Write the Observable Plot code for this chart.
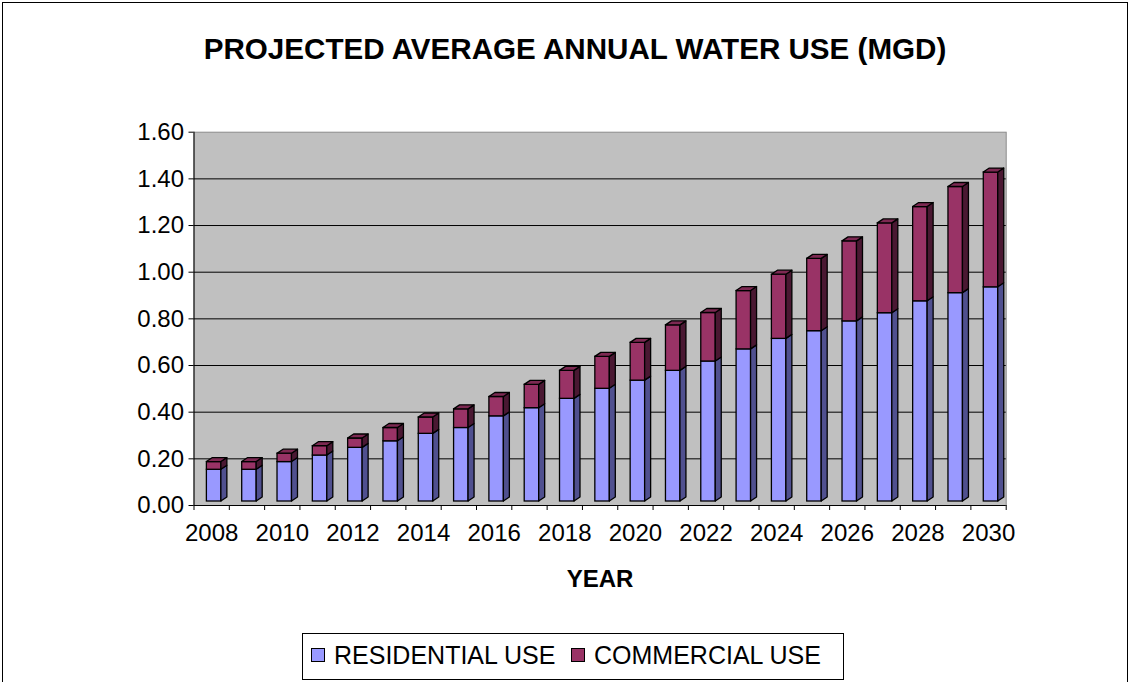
<!DOCTYPE html>
<html>
<head>
<meta charset="utf-8">
<script src="https://cdn.jsdelivr.net/npm/d3@7"></script>
<script src="https://cdn.jsdelivr.net/npm/@observablehq/plot@0.6"></script>
<style>
  body { margin: 0; background: #fff; font-family: "Liberation Sans", Arial, sans-serif; color: #000; }
  #wrap { position: relative; width: 1130px; height: 682px; overflow: hidden; background: #fff; }
  #frame { position: absolute; left: 2px; top: 2px; width: 1126px; height: 800px; border: 1px solid #000; box-sizing: border-box; }
  #title { position: absolute; left: 0; top: 34px; width: 1150px; text-align: center; font-weight: bold; font-size: 29.6px; line-height: 29.6px; white-space: nowrap; }
  #chart { position: absolute; left: 0; top: 100px; }
  #xlabel { position: absolute; left: 500px; width: 200px; top: 566.7px; text-align: center; font-weight: bold; font-size: 24px; line-height: 24px; }
  #legend { position: absolute; left: 302px; top: 633px; width: 542px; height: 47px; border: 1px solid #000; box-sizing: border-box; }
  .sw { position: absolute; width: 14px; height: 14px; border: 1px solid #000; box-sizing: border-box; top: 648px; }
  .lt { position: absolute; top: 642.7px; font-size: 25px; line-height: 24px; white-space: nowrap; }
</style>
</head>
<body>
<div id="wrap">
  <div id="frame"></div>
  <div id="title">PROJECTED AVERAGE ANNUAL WATER USE (MGD)</div>
  <div id="chart"></div>
  <div id="xlabel">YEAR</div>
  <div id="legend"></div>
  <div class="sw" id="sw1" style="left:311px;"></div>
  <div class="lt" id="lt1" style="left:334px;"></div>
  <div class="sw" id="sw2" style="left:571px;"></div>
  <div class="lt" id="lt2" style="left:594px;"></div>
</div>
<script>
// ---- data ----
const years = [2008, 2009, 2010, 2011, 2012, 2013, 2014, 2015, 2016, 2017, 2018, 2019,
               2020, 2021, 2022, 2023, 2024, 2025, 2026, 2027, 2028, 2029, 2030];
const residential = [0.136, 0.136, 0.169, 0.197, 0.230, 0.258, 0.290, 0.315, 0.365, 0.400, 0.440, 0.483,
                     0.518, 0.560, 0.600, 0.652, 0.697, 0.730, 0.772, 0.807, 0.858, 0.893, 0.918];
const commercial = [0.033, 0.033, 0.036, 0.040, 0.040, 0.057, 0.070, 0.080, 0.083, 0.100, 0.120, 0.137,
                    0.162, 0.195, 0.208, 0.250, 0.275, 0.310, 0.343, 0.385, 0.404, 0.455, 0.492];
const seriesNames = ["RESIDENTIAL USE", "COMMERCIAL USE"];
const yTicks = [0, 0.2, 0.4, 0.6, 0.8, 1.0, 1.2, 1.4, 1.6];
const xTickLabels = [2008, 2010, 2012, 2014, 2016, 2018, 2020, 2022, 2024, 2026, 2028, 2030];

// ---- style / layout ----
const colors = {
  resFront: "#9999FF", resSide: "#50508F",
  comFront: "#993366", comSide: "#4A1832", comTop: "#7D2952"
};
const W = 1130, H = 500;
const mL = 193.5, mR = 1130 - 1005.7, mT = 31.7, mB = 95;
const pxPerYear = (W - mL - mR) / years.length;
const pxPerUnit = (H - mT - mB) / 1.6;
const faceL = -0.135, faceR = 0.275;         // front face within a year band (in years)
const depthX = 6 / pxPerYear, depthY = 4 / pxPerUnit; // 3D depth
const lift = -4;                              // front face sits slightly above the axis line

const rows = years.map((year, i) => ({
  year, res: residential[i], com: commercial[i], tot: residential[i] + commercial[i]
}));

const side = (lo, hi) => rows.flatMap(d => [
  {year: d.year, x: d.year + faceR, y1: lo(d), y2: hi(d)},
  {year: d.year, x: d.year + faceR + depthX, y1: lo(d) + depthY, y2: hi(d) + depthY}
]);
const topCap = rows.flatMap(d => [
  {year: d.year, x: d.year + faceL, y1: d.tot, y2: d.tot},
  {year: d.year, x: d.year + faceL + depthX, y1: d.tot, y2: d.tot + depthY},
  {year: d.year, x: d.year + faceR, y1: d.tot, y2: d.tot + depthY},
  {year: d.year, x: d.year + faceR + depthX, y1: d.tot + depthY, y2: d.tot + depthY}
]);
const boundaries = years.map(y => y - 0.5).concat([years[years.length - 1] + 0.5]);

const chart = Plot.plot({
  width: W, height: H,
  marginLeft: mL, marginRight: mR, marginTop: mT, marginBottom: mB,
  x: {domain: [years[0] - 0.5, years[years.length - 1] + 0.5]},
  y: {domain: [0, 1.6]},
  style: {fontFamily: "'Liberation Sans', Arial, sans-serif", fontSize: "24px", color: "#000", background: "transparent", overflow: "visible"},
  marks: [
    Plot.frame({fill: "#C0C0C0", stroke: "#8a8a8a"}),
    Plot.ruleY(yTicks.filter(t => t > 0 && t < 1.6), {stroke: "#000", strokeWidth: 1}),
    // residential
    Plot.rect(rows, {x1: d => d.year + faceL, x2: d => d.year + faceR, y1: 0, y2: "res",
      fill: colors.resFront, stroke: "#000", strokeWidth: 1.3, dy: lift}),
    Plot.area(side(() => 0, d => d.res), {x1: "x", y1: "y1", y2: "y2", z: "year",
      fill: colors.resSide, stroke: "#000", strokeWidth: 1.3, dy: lift}),
    // commercial
    Plot.rect(rows, {x1: d => d.year + faceL, x2: d => d.year + faceR, y1: "res", y2: "tot",
      fill: colors.comFront, stroke: "#000", strokeWidth: 1.3, dy: lift}),
    Plot.area(side(d => d.res, d => d.tot), {x1: "x", y1: "y1", y2: "y2", z: "year",
      fill: colors.comSide, stroke: "#000", strokeWidth: 1.3, dy: lift}),
    Plot.area(topCap, {x1: "x", y1: "y1", y2: "y2", z: "year",
      fill: colors.comTop, stroke: "#000", strokeWidth: 1.3, dy: lift}),
    // axes
    Plot.ruleX([years[0] - 0.5], {stroke: "#000"}),
    Plot.ruleY([0], {stroke: "#000"}),
    Plot.axisY({ticks: yTicks, tickFormat: d3.format(".2f"), tickSize: 5, tickPadding: 5, fontSize: 24, label: null}),
    Plot.axisX({ticks: boundaries, tickSize: 5, tickFormat: () => "", label: null}),
    Plot.axisX({ticks: xTickLabels, tickSize: 0, tickPadding: 18, tickFormat: d => String(d), fontSize: 24, label: null})
  ]
});
document.getElementById("chart").appendChild(chart);

document.getElementById("sw1").style.background = colors.resFront;
document.getElementById("sw2").style.background = colors.comFront;
document.getElementById("lt1").textContent = seriesNames[0];
document.getElementById("lt2").textContent = seriesNames[1];
</script>
</body>
</html>
